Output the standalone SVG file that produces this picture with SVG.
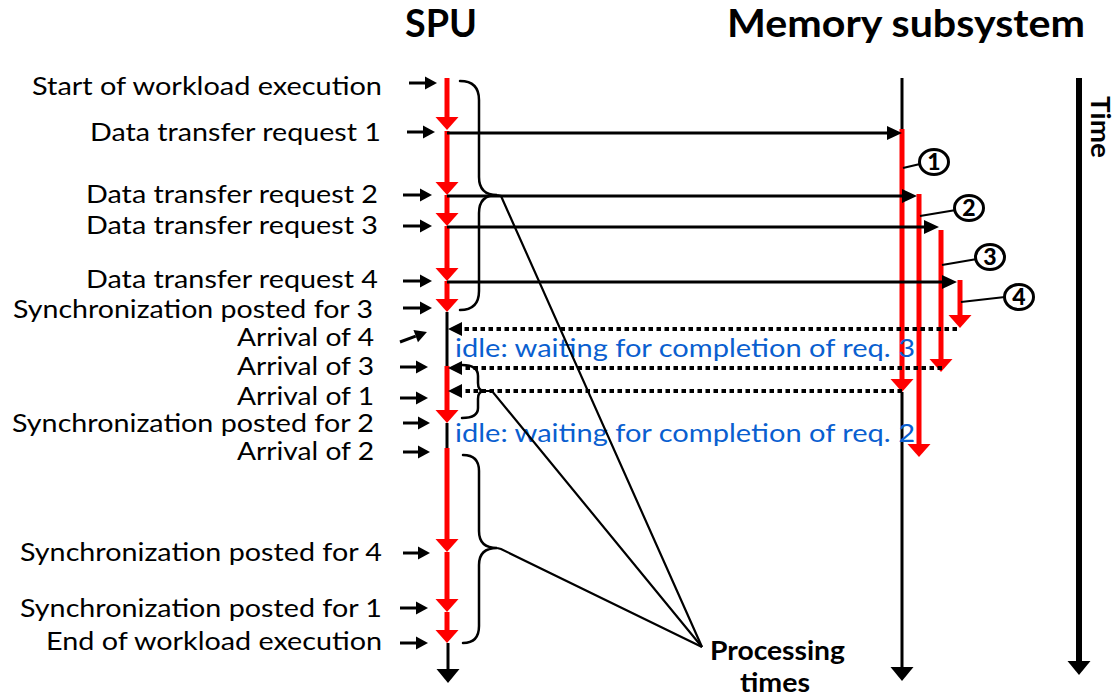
<svg xmlns="http://www.w3.org/2000/svg" width="1119" height="696" viewBox="0 0 1119 696">
  <defs>
    <style>
      .lbl { font-family: Lato, "Open Sans", "Liberation Sans", sans-serif; font-size: 25px; fill: #000; }
      .hdr { font-family: Lato, "Open Sans", "Liberation Sans", sans-serif; font-size: 38px; font-weight: bold; fill: #000; }
      .bold { font-family: Lato, "Open Sans", "Liberation Sans", sans-serif; font-size: 26px; font-weight: bold; fill: #000; }
      .idle { font-family: Lato, "Open Sans", "Liberation Sans", sans-serif; font-size: 25.5px; fill: #0a5fd0; }
      .num { font-family: Lato, "Liberation Sans", sans-serif; font-size: 23px; font-weight: 900; fill: #000; text-anchor: middle; }
      .red { stroke: #ff0000; stroke-width: 5; fill: none; marker-end: url(#rh); }
      .life { stroke: #000; stroke-width: 3; fill: none; }
      .req { stroke: #000; stroke-width: 3; fill: none; marker-end: url(#qh); }
      .ret { stroke: #000; stroke-width: 4; stroke-dasharray: 4.5 3.5; fill: none; marker-end: url(#dh); }
      .tick { stroke: #000; stroke-width: 3; fill: none; marker-end: url(#sh); }
      .brace { stroke: #000; stroke-width: 2.5; fill: none; stroke-linecap: round; }
      .ptr { stroke: #000; stroke-width: 2.2; fill: none; }
      .circ { stroke: #000; stroke-width: 3; fill: #fff; }
      .lead { stroke: #000; stroke-width: 2.2; fill: none; }
    </style>
    <!-- red downward head, base at the line end -->
    <marker id="rh" markerUnits="userSpaceOnUse" markerWidth="14" markerHeight="23" refX="0" refY="11.5" orient="auto" overflow="visible">
      <path d="M0,0 L13,11.5 L0,23 Z" fill="#ff0000"/>
    </marker>
    <!-- black big head -->
    <marker id="bh" markerUnits="userSpaceOnUse" markerWidth="15" markerHeight="23" refX="0" refY="11.5" orient="auto" overflow="visible">
      <path d="M0,0 L14,11.5 L0,23 Z" fill="#000"/>
    </marker>
    <!-- request head -->
    <marker id="qh" markerUnits="userSpaceOnUse" markerWidth="16" markerHeight="14" refX="0" refY="7" orient="auto" overflow="visible">
      <path d="M0,0 L15,7 L0,14 Z" fill="#000"/>
    </marker>
    <!-- return (dotted) head -->
    <marker id="dh" markerUnits="userSpaceOnUse" markerWidth="15" markerHeight="14" refX="0" refY="7" orient="auto" overflow="visible">
      <path d="M0,0 L14,7 L0,14 Z" fill="#000"/>
    </marker>
    <!-- small label pointer head -->
    <marker id="sh" markerUnits="userSpaceOnUse" markerWidth="13" markerHeight="13" refX="0" refY="6.5" orient="auto" overflow="visible">
      <path d="M0,0 L12,6.5 L0,13 Z" fill="#000"/>
    </marker>
  </defs>

  <rect width="1119" height="696" fill="#fff"/>

  <!-- column headers -->
  <g id="headers">
    <text class="hdr" x="405" y="37" textLength="72" lengthAdjust="spacingAndGlyphs">SPU</text>
    <text class="hdr" x="727" y="37" textLength="358" lengthAdjust="spacingAndGlyphs">Memory subsystem</text>
  </g>

  <!-- time axis -->
  <g id="time-axis">
    <line x1="1079" y1="78" x2="1079" y2="661" stroke="#000" stroke-width="6" marker-end="url(#bh)"/>
    <text class="bold" transform="translate(1091,96) rotate(90)" x="0" y="0" textLength="62" lengthAdjust="spacingAndGlyphs">Time</text>
  </g>

  <!-- event labels on the SPU side -->
  <g id="event-labels">
    <text class="lbl" x="382" y="95" text-anchor="end" textLength="350" lengthAdjust="spacingAndGlyphs">Start of workload execution</text>
    <text class="lbl" x="381" y="141" text-anchor="end" textLength="291" lengthAdjust="spacingAndGlyphs">Data transfer request 1</text>
    <text class="lbl" x="378" y="203" text-anchor="end" textLength="292" lengthAdjust="spacingAndGlyphs">Data transfer request 2</text>
    <text class="lbl" x="378" y="234" text-anchor="end" textLength="292" lengthAdjust="spacingAndGlyphs">Data transfer request 3</text>
    <text class="lbl" x="378" y="288" text-anchor="end" textLength="292" lengthAdjust="spacingAndGlyphs">Data transfer request 4</text>
    <text class="lbl" x="373" y="318" text-anchor="end" textLength="360" lengthAdjust="spacingAndGlyphs">Synchronization posted for 3</text>
    <text class="lbl" x="374" y="346" text-anchor="end" textLength="137" lengthAdjust="spacingAndGlyphs">Arrival of 4</text>
    <text class="lbl" x="374" y="375" text-anchor="end" textLength="137" lengthAdjust="spacingAndGlyphs">Arrival of 3</text>
    <text class="lbl" x="374" y="405" text-anchor="end" textLength="137" lengthAdjust="spacingAndGlyphs">Arrival of 1</text>
    <text class="lbl" x="374" y="432" text-anchor="end" textLength="362" lengthAdjust="spacingAndGlyphs">Synchronization posted for 2</text>
    <text class="lbl" x="374" y="460" text-anchor="end" textLength="137" lengthAdjust="spacingAndGlyphs">Arrival of 2</text>
    <text class="lbl" x="382" y="561" text-anchor="end" textLength="362" lengthAdjust="spacingAndGlyphs">Synchronization posted for 4</text>
    <text class="lbl" x="382" y="617" text-anchor="end" textLength="362" lengthAdjust="spacingAndGlyphs">Synchronization posted for 1</text>
    <text class="lbl" x="382" y="650" text-anchor="end" textLength="336" lengthAdjust="spacingAndGlyphs">End of workload execution</text>
  </g>

  <!-- small pointers from labels to the SPU timeline -->
  <g id="label-pointers">
    <line class="tick" x1="409" y1="83" x2="425" y2="83"/>
    <line class="tick" x1="407" y1="132" x2="423" y2="132"/>
    <line class="tick" x1="403" y1="195" x2="420" y2="195"/>
    <line class="tick" x1="403" y1="226" x2="420" y2="226"/>
    <line class="tick" x1="403" y1="281" x2="420" y2="281"/>
    <line class="tick" x1="403" y1="308" x2="420" y2="308"/>
    <line class="tick" x1="400" y1="342" x2="415.7" y2="336.2"/>
    <line class="tick" x1="400" y1="367" x2="416" y2="367"/>
    <line class="tick" x1="400" y1="398" x2="416" y2="398"/>
    <line class="tick" x1="403" y1="423" x2="418" y2="423"/>
    <line class="tick" x1="403" y1="452" x2="418" y2="452"/>
    <line class="tick" x1="403" y1="553" x2="418" y2="553"/>
    <line class="tick" x1="400" y1="608" x2="416" y2="608"/>
    <line class="tick" x1="400" y1="643" x2="416" y2="643"/>
  </g>

  <!-- SPU timeline: red = processing, black = idle -->
  <g id="spu-timeline">
    <line class="red" x1="447" y1="78" x2="447" y2="117"/>
    <line class="red" x1="447" y1="131" x2="447" y2="182"/>
    <line class="red" x1="447" y1="195" x2="447" y2="213"/>
    <line class="red" x1="447" y1="226" x2="447" y2="268"/>
    <line class="red" x1="447" y1="281" x2="447" y2="299"/>
    <line class="life" x1="447" y1="312" x2="447" y2="366"/>
    <line class="red" x1="447" y1="366" x2="447" y2="410"/>
    <line class="life" x1="447" y1="423" x2="447" y2="448"/>
    <line class="red" x1="447" y1="448" x2="447" y2="539"/>
    <line class="red" x1="447" y1="552" x2="447" y2="599"/>
    <line class="red" x1="447" y1="612" x2="447" y2="630"/>
    <line x1="448" y1="643" x2="448" y2="669" stroke="#000" stroke-width="3" marker-end="url(#bh)"/>
  </g>

  <!-- memory subsystem timeline and per-request service bars -->
  <g id="memory-timeline">
    <line class="life" x1="902" y1="78" x2="902" y2="130"/>
    <line x1="902" y1="392" x2="902" y2="667" stroke="#000" stroke-width="3" marker-end="url(#bh)"/>
    <line class="red" x1="902" y1="129" x2="902" y2="379"/>
    <line class="red" x1="919" y1="194" x2="919" y2="444"/>
    <line class="red" x1="941" y1="230" x2="941" y2="359"/>
    <line class="red" x1="960" y1="280" x2="960" y2="315"/>
  </g>

  <!-- requests and arrivals -->
  <g id="connectors">
    <line class="req" x1="447" y1="133" x2="887" y2="133"/>
    <line class="req" x1="447" y1="196" x2="902" y2="196"/>
    <line class="req" x1="447" y1="227" x2="924" y2="227"/>
    <line class="req" x1="447" y1="282" x2="942" y2="282"/>
    <line class="ret" x1="957" y1="329" x2="462" y2="329"/>
    <line class="ret" x1="942" y1="368" x2="462" y2="368"/>
    <line class="ret" x1="902" y1="391" x2="462" y2="391"/>
  </g>

  <!-- request number tags -->
  <g id="tag-1">
    <line class="lead" x1="903" y1="168" x2="920" y2="164"/>
    <ellipse class="circ" cx="934" cy="162" rx="14.5" ry="12.5"/>
    <text class="num" x="934" y="170">1</text>
  </g>
  <g id="tag-2">
    <line class="lead" x1="920" y1="216" x2="956" y2="210"/>
    <ellipse class="circ" cx="969" cy="208" rx="14.5" ry="12.5"/>
    <text class="num" x="969" y="216">2</text>
  </g>
  <g id="tag-3">
    <line class="lead" x1="942" y1="265" x2="977" y2="259"/>
    <ellipse class="circ" cx="990" cy="257" rx="14.5" ry="12.5"/>
    <text class="num" x="990" y="265">3</text>
  </g>
  <g id="tag-4">
    <line class="lead" x1="961" y1="302" x2="1005" y2="297"/>
    <ellipse class="circ" cx="1019" cy="297" rx="14.5" ry="12.5"/>
    <text class="num" x="1019" y="305">4</text>
  </g>

  <!-- idle periods -->
  <g id="idle-labels">
    <text class="idle" x="455" y="357" textLength="460" lengthAdjust="spacingAndGlyphs">idle: waiting for completion of req. 3</text>
    <text class="idle" x="455" y="442" textLength="460" lengthAdjust="spacingAndGlyphs">idle: waiting for completion of req. 2</text>
  </g>

  <!-- processing-time braces and their pointers -->
  <g id="processing-braces">
    <path class="brace" d="M460,81 Q479,81 479,100 L479,177 Q479,195 497,195 Q479,195 479,213 L479,291 Q479,310 460,310"/>
    <path class="brace" d="M462,365 Q478,365 478,376 L478,383 Q478,391 484,391 Q478,391 478,399 L478,408 Q478,418 462,418"/>
    <path class="brace" d="M463,455 Q479,455 479,471 L479,531 Q479,548 497,548 Q479,548 479,565 L479,626 Q479,643 463,643"/>
    <polyline class="ptr" points="497,195 501,196 702,647"/>
    <polyline class="ptr" points="484,391 492,391 702,647"/>
    <polyline class="ptr" points="497,548 501,549 702,647"/>
  </g>

  <g id="processing-label">
    <text class="bold" x="710" y="660" textLength="135" lengthAdjust="spacingAndGlyphs">Processing</text>
    <text class="bold" x="740" y="692" textLength="70" lengthAdjust="spacingAndGlyphs">times</text>
  </g>
</svg>
